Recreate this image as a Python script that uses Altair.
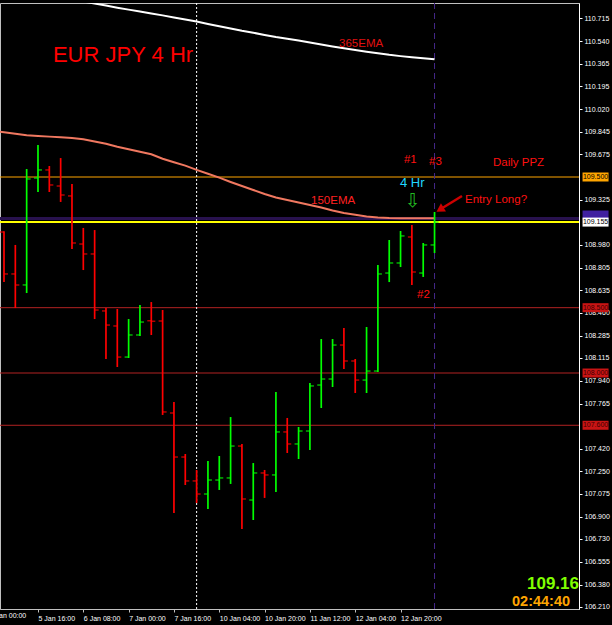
import json
import altair as alt
import pandas as pd

# ---------------- data (EUR/JPY, 4-hour bars) ----------------
bar_index = list(range(39))
bar_open = [109.079, 108.758, 108.674, 109.492, 109.554, 109.431, 109.355, 108.987, 108.911, 108.475,
            108.360, 108.122, 108.291, 108.400, 108.398, 107.694, 107.357, 107.174, 107.074, 107.181,
            107.197, 107.441, 107.028, 107.235, 107.220, 107.549, 107.457, 107.556, 107.908, 107.954,
            108.214, 108.092, 107.946, 108.015, 108.765, 108.842, 109.041, 108.765, 108.980]
bar_high = [109.085, 108.980, 109.561, 109.745, 109.584, 109.645, 109.446, 109.110, 109.094, 108.497,
            108.490, 108.413, 108.520, 108.543, 108.482, 107.778, 107.380, 107.258, 107.327, 107.365,
            107.663, 107.457, 107.311, 107.258, 107.855, 107.656, 107.587, 107.924, 108.260, 108.260,
            108.344, 108.107, 108.352, 108.827, 109.018, 109.087, 109.133, 108.995, 109.232]
bar_low = [108.696, 108.497, 108.612, 109.385, 109.385, 109.309, 108.949, 108.788, 108.413, 108.107,
           108.046, 108.115, 108.283, 108.291, 107.679, 106.929, 107.143, 107.005, 106.959, 107.105,
           107.151, 106.806, 106.875, 107.044, 107.089, 107.388, 107.342, 107.411, 107.732, 107.893,
           108.031, 107.847, 107.847, 108.008, 108.696, 108.811, 108.674, 108.735, 108.918]
bar_close = [108.758, 108.674, 109.485, 109.554, 109.439, 109.362, 108.995, 108.911, 108.482, 108.367,
             108.122, 108.291, 108.390, 108.396, 107.702, 107.357, 107.174, 107.074, 107.181, 107.197,
             107.441, 107.036, 107.235, 107.220, 107.549, 107.457, 107.556, 107.901, 107.954, 108.214,
             108.092, 107.946, 108.015, 108.758, 108.842, 109.049, 108.773, 108.980, 109.155]

ema150_index = list(range(-1, 39))
ema150 = [109.852, 109.843, 109.831, 109.820, 109.814, 109.809, 109.804, 109.798, 109.789, 109.772,
          109.754, 109.732, 109.713, 109.694, 109.674, 109.640, 109.613, 109.587, 109.555, 109.525,
          109.495, 109.462, 109.431, 109.401, 109.370, 109.343, 109.324, 109.305, 109.286, 109.267,
          109.244, 109.225, 109.211, 109.198, 109.191, 109.187, 109.185, 109.184, 109.184, 109.184]

ema365_index = list(range(6, 39))
ema365 = [110.858, 110.843, 110.827, 110.812, 110.796, 110.781, 110.767, 110.752, 110.737, 110.721,
          110.706, 110.690, 110.671, 110.653, 110.636, 110.619, 110.604, 110.587, 110.571, 110.558,
          110.544, 110.529, 110.514, 110.499, 110.485, 110.472, 110.459, 110.447, 110.435, 110.425,
          110.416, 110.408, 110.401]

y_tick_values = [110.715, 110.540, 110.365, 110.195, 110.020, 109.845, 109.675, 109.325,
                 108.980, 108.805, 108.635, 108.460, 108.285, 108.115, 107.940, 107.765,
                 107.420, 107.250, 107.075, 106.900, 106.730, 106.555, 106.380, 106.210]
x_tick_bars = [3, 7, 11, 15, 19, 23, 27, 31, 35]
x_tick_labels = ["5 Jan 16:00", "6 Jan 08:00", "7 Jan 00:00", "7 Jan 16:00",
                 "10 Jan 04:00", "10 Jan 20:00", "11 Jan 12:00", "12 Jan 04:00", "12 Jan 20:00"]
# first time label, whose bar lies just left of the visible area (cut by the frame)
first_label = ["5 Jan 00:00"]
first_label_bar = [-1]
first_label_price = [106.171]

# horizontal levels
level_price = [109.182, 109.500, 109.155, 108.500, 108.000, 107.600]
level_color = ["#28124e", "#ffa500", "#ffff00", "#b22222", "#b22222", "#b22222"]
level_width = [3, 1, 2, 1, 1, 1]

# vertical markers (bar index)
dotted_bar = [17]
dashed_bar = [38]

# price boxes on the right axis
box_price = [109.209, 109.500, 109.155, 108.500, 108.000, 107.600]
box_fill = ["#4020a0", "#ffa500", "#ffffff", "#c81414", "#c81414", "#c81414"]
box_text = ["", "109.500", "109.155", "108.500", "108.000", "107.600"]
box_text_color = ["#000000", "#000000", "#000000", "#3c0000", "#3c0000", "#3c0000"]
box_bar = 52.21

# text annotations
note_text = ["EUR JPY 4 Hr", "365EMA", "150EMA", "#1", "#3", "Daily PPZ", "4 Hr", "Entry Long?", "#2"]
note_bar = [4.32, 29.57, 27.10, 35.30, 37.51, 43.16, 34.95, 40.69, 36.45]
note_price = [110.380, 110.495, 109.293, 109.607, 109.592, 109.584, 109.423, 109.301, 108.574]
note_color = ["#ff0000", "#e01010", "#ff2020", "#ff1010", "#ff1010", "#ff1010", "#20d8ff", "#ff1010", "#ff1010"]
note_size = [22, 11.5, 11.5, 11.5, 11.5, 11.5, 13, 11.5, 11.5]

info_text = ["109.16", "02:44:40"]
info_bar = [50.75, 49.96]
info_price = [106.345, 106.220]
info_color = ["#80ff00", "#ffa500"]
info_size = [17, 14.5]

arrow_bar = [40.42, 38.48]
arrow_price = [109.355, 109.251]
down_arrow_bar = [36.05]
down_arrow_price = [109.318]

# ---------------- frames ----------------
bars = pd.DataFrame({"k": bar_index, "o": bar_open, "h": bar_high, "l": bar_low, "c": bar_close})
bars["dir"] = ["up" if c >= o else "down" for o, c in zip(bar_open, bar_close)]
e150 = pd.DataFrame({"k": ema150_index, "p": ema150})
e365 = pd.DataFrame({"k": ema365_index, "p": ema365})
levels = pd.DataFrame({"p": level_price, "color": level_color, "w": level_width})
boxes = pd.DataFrame({"k": [box_bar] * len(box_price), "p": box_price, "fill": box_fill,
                      "t": box_text, "tc": box_text_color})
notes = pd.DataFrame({"t": note_text, "k": note_bar, "p": note_price, "color": note_color, "s": note_size})
info = pd.DataFrame({"t": info_text, "k": info_bar, "p": info_price, "color": info_color, "s": info_size})
arrow = pd.DataFrame({"k": arrow_bar, "p": arrow_price})
down_arrow = pd.DataFrame({"k": down_arrow_bar, "p": down_arrow_price})
first_lab = pd.DataFrame({"t": first_label, "k": first_label_bar, "p": first_label_price})

# ---------------- scales/axes ----------------
FONT_SMALL = "Liberation Sans"
SMALL_SIZE = 7
xscale = alt.Scale(domain=[-0.353, 50.75], nice=False, zero=False)
yscale = alt.Scale(domain=[106.194, 110.8316], nice=False, zero=False)
xaxis = alt.Axis(values=x_tick_bars, title=None, grid=False,
                 labelExpr=json.dumps(x_tick_labels) + "[(datum.value - 3) / 4]",
                 labelColor="#ffffff", labelFont=FONT_SMALL, labelFontSize=SMALL_SIZE,
                 labelAlign="left", labelBaseline="top", labelPadding=2,
                 labelFlush=False, labelOverlap=False, labelBound=False,
                 tickColor="#c0c0c0", tickSize=3, domainColor="#c0c0c0")
yaxis = alt.Axis(orient="right", values=y_tick_values, format=".3f", title=None, grid=False,
                 labelColor="#ffffff", labelFont=FONT_SMALL, labelFontSize=SMALL_SIZE, labelPadding=2,
                 labelFlush=False, labelOverlap=False, labelBound=False,
                 tickColor="#ffffff", tickSize=3, domainColor="#ffffff")


def X(field):
    return alt.X(field, type="quantitative", scale=xscale, axis=xaxis)


def Y(field):
    return alt.Y(field, type="quantitative", scale=yscale, axis=yaxis)


level_layer = alt.Chart(levels).mark_rule().encode(
    y=Y("p"), color=alt.Color("color:N", scale=None), strokeWidth=alt.StrokeWidth("w:Q", scale=None))

dotted_layer = alt.Chart(pd.DataFrame({"k": dotted_bar})).mark_rule(
    color="#ffffff", strokeDash=[2, 2], strokeWidth=1).encode(x=X("k"))
dashed_layer = alt.Chart(pd.DataFrame({"k": dashed_bar})).mark_rule(
    color="#45288a", strokeDash=[6, 4], strokeWidth=1).encode(x=X("k"))

ema150_layer = alt.Chart(e150).mark_line(color="#f07860", strokeWidth=2, clip=True).encode(x=X("k"), y=Y("p"))
ema365_layer = alt.Chart(e365).mark_line(color="#ffffff", strokeWidth=2, clip=True).encode(x=X("k"), y=Y("p"))

dir_color = alt.Color("dir:N", scale=alt.Scale(domain=["up", "down"], range=["#00ff00", "#ff0000"]), legend=None)
hl_layer = alt.Chart(bars).mark_rule(strokeWidth=1.7).encode(x=X("k"), y=Y("l"), y2="h", color=dir_color)
open_layer = alt.Chart(bars).mark_tick(orient="horizontal", size=4, thickness=1.5, xOffset=-2).encode(
    x=X("k"), y=Y("o"), color=dir_color)
close_layer = alt.Chart(bars).mark_tick(orient="horizontal", size=4, thickness=1.5, xOffset=2).encode(
    x=X("k"), y=Y("c"), color=dir_color)

notes_layer = alt.Chart(notes).mark_text(align="left", baseline="alphabetic", font="Liberation Sans").encode(
    x=X("k"), y=Y("p"), text="t:N", color=alt.Color("color:N", scale=None), size=alt.Size("s:Q", scale=None))
info_layer = alt.Chart(info).mark_text(align="right", baseline="alphabetic", font="Liberation Sans",
                                       fontWeight="bold").encode(
    x=X("k"), y=Y("p"), text="t:N", color=alt.Color("color:N", scale=None), size=alt.Size("s:Q", scale=None))

down_arrow_layer = alt.Chart(down_arrow).mark_text(text="⇩", font="DejaVu Sans", fontSize=19,
                                                   color="#22bb22", baseline="middle", align="center").encode(
    x=X("k"), y=Y("p"))

arrow_line = alt.Chart(arrow).mark_line(color="#cc0000", strokeWidth=2.5).encode(x=X("k"), y=Y("p"))
arrow_head = alt.Chart(arrow.tail(1)).mark_point(shape="triangle-up", filled=True, size=90, angle=238,
                                                 color="#cc0000", opacity=1).encode(x=X("k"), y=Y("p"))

first_label_layer = alt.Chart(first_lab).mark_text(align="left", baseline="top", font=FONT_SMALL,
                                                   fontSize=SMALL_SIZE, color="#ffffff", dx=-3).encode(
    x=X("k"), y=Y("p"), text="t:N")

box_layer = alt.Chart(boxes).mark_tick(orient="horizontal", size=26, thickness=9, opacity=1).encode(
    x=X("k"), y=Y("p"), color=alt.Color("fill:N", scale=None))
box_text_layer = alt.Chart(boxes).mark_text(font=FONT_SMALL, fontSize=SMALL_SIZE, align="center",
                                            baseline="middle").encode(
    x=X("k"), y=Y("p"), text="t:N", color=alt.Color("tc:N", scale=None))

chart = alt.layer(
    level_layer, dotted_layer, dashed_layer, ema365_layer, ema150_layer,
    hl_layer, open_layer, close_layer,
    notes_layer, info_layer, down_arrow_layer, arrow_line, arrow_head, first_label_layer,
    box_layer, box_text_layer,
).properties(
    width=579, height=606,
    padding={"left": 0, "top": 3, "right": 33, "bottom": 16},
    autosize="none", background="#000000",
).configure_view(stroke="#c0c0c0", strokeWidth=1)

chart.save("out.html", embed_options={"renderer": "svg", "actions": False})
